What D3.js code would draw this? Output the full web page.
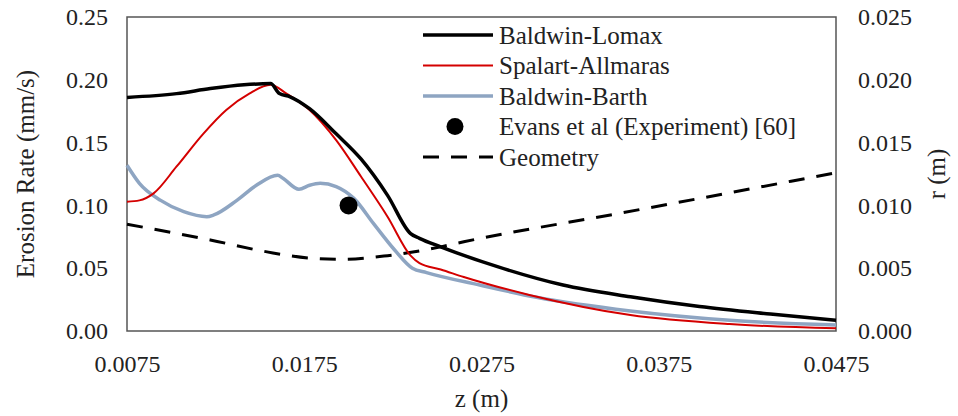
<!DOCTYPE html>
<html><head><meta charset="utf-8">
<script src="https://cdn.jsdelivr.net/npm/d3@7"></script>
<style>body{margin:0;background:#fff}svg{display:block}text{font-family:"Liberation Serif","Times New Roman",serif;fill:#222}</style>
</head><body><svg id="c" width="958" height="416"></svg>
<script>
const xTicks = [0.0075, 0.0175, 0.0275, 0.0375, 0.0475];
const yTicks = [0, 0.05, 0.10, 0.15, 0.20, 0.25];
const rTicks = [0, 0.005, 0.010, 0.015, 0.020, 0.025];

const lomaxZ = [0.0075, 0.0103, 0.0122, 0.0141, 0.0156, 0.0161, 0.0167, 0.0178, 0.0193, 0.0207, 0.0222, 0.0235, 0.0240, 0.0252, 0.0284, 0.0321, 0.0359, 0.0398, 0.0438, 0.0475];
const lomaxV = [0.186, 0.189, 0.193, 0.196, 0.197, 0.189, 0.1865, 0.177, 0.157, 0.137, 0.108, 0.0775, 0.0738, 0.067, 0.0512, 0.0366, 0.0273, 0.0195, 0.0135, 0.0085];

const spalartZ = [0.0075, 0.0082, 0.0090, 0.0103, 0.0118, 0.0131, 0.0144, 0.0156, 0.0165, 0.0178, 0.0193, 0.0207, 0.0222, 0.0235, 0.0240, 0.0252, 0.0265, 0.0302, 0.0359, 0.0415, 0.0475];
const spalartV = [0.103, 0.104, 0.1096, 0.131, 0.157, 0.176, 0.189, 0.196, 0.189, 0.176, 0.152, 0.123, 0.091, 0.060, 0.054, 0.049, 0.043, 0.0287, 0.0127, 0.0055, 0.0021];

const barthZ = [0.0075, 0.0082, 0.0094, 0.0107, 0.0120, 0.0124, 0.0137, 0.0148, 0.0160, 0.0163, 0.0172, 0.0178, 0.0184, 0.0193, 0.0203, 0.0214, 0.0226, 0.0236, 0.0244, 0.0274, 0.0306, 0.0359, 0.0415, 0.0475];
const barthV = [0.132, 0.1176, 0.104, 0.095, 0.091, 0.0924, 0.104, 0.116, 0.124, 0.1216, 0.1128, 0.116, 0.1176, 0.115, 0.1056, 0.0857, 0.0645, 0.050, 0.0465, 0.0366, 0.0268, 0.0159, 0.0085, 0.0048];

const expZ = [0.0200];
const expV = [0.100];

const geomZ = [0.0075, 0.0122, 0.0154, 0.0178, 0.0197, 0.0222, 0.0252, 0.0265, 0.0354, 0.0475];
const geomR = [0.0085, 0.00725, 0.0063, 0.0058, 0.0057, 0.0060, 0.0067, 0.0071, 0.0094, 0.0126];

const legendLabels = ["Baldwin-Lomax", "Spalart-Allmaras", "Baldwin-Barth", "Evans et al (Experiment) [60]", "Geometry"];

const svg = d3.select("#c");
const m = {l: 127, r: 836, t: 17, b: 331};
const x = d3.scaleLinear().domain([0.0075, 0.0475]).range([m.l, m.r]);
const y = d3.scaleLinear().domain([0, 0.25]).range([m.b, m.t]);
const yr = d3.scaleLinear().domain([0, 0.025]).range([m.b, m.t]);

const fs = 24, fl = 25;
const gx = svg.append("g").attr("transform", `translate(0,${m.b})`)
  .call(d3.axisBottom(x).tickValues(xTicks).tickFormat(d3.format(".4f")).tickSize(0).tickPadding(24));
const gy = svg.append("g").attr("transform", `translate(${m.l},0)`)
  .call(d3.axisLeft(y).tickValues(yTicks).tickFormat(d3.format(".2f")).tickSize(0).tickPadding(19));
const gr = svg.append("g").attr("transform", `translate(${m.r},0)`)
  .call(d3.axisRight(yr).tickValues(rTicks).tickFormat(d3.format(".3f")).tickSize(0).tickPadding(22));
[gx, gy, gr].forEach(g => {
  g.select(".domain").remove();
  g.selectAll("text").attr("font-size", fs).attr("font-family", "Liberation Serif").attr("fill", "#222");
});
svg.append("rect").attr("x", m.l).attr("y", m.t).attr("width", m.r - m.l).attr("height", m.b - m.t)
  .attr("fill", "none").attr("stroke", "#555").attr("stroke-width", 1.5);

svg.append("text").attr("x", x(0.0275)).attr("y", 407).attr("text-anchor", "middle").attr("font-size", fl).text("z (m)");
svg.append("text").attr("transform", `translate(34,${(m.t + m.b) / 2}) rotate(-90)`).attr("text-anchor", "middle").attr("font-size", fl).text("Erosion Rate (mm/s)");
svg.append("text").attr("transform", `translate(945,${(m.t + m.b) / 2}) rotate(-90)`).attr("text-anchor", "middle").attr("font-size", fl).text("r (m)");

const line = (zs, vs, sc) => d3.line().x((d, i) => x(zs[i])).y((d, i) => sc(vs[i])).curve(d3.curveMonotoneX)(vs);

svg.append("path").attr("d", line(geomZ, geomR, yr)).attr("fill", "none").attr("stroke", "#000").attr("stroke-width", 3).attr("stroke-dasharray", "16,12");
svg.append("path").attr("d", line(barthZ, barthV, y)).attr("fill", "none").attr("stroke", "#8EA5C2").attr("stroke-width", 3.5);
svg.append("path").attr("d", line(spalartZ, spalartV, y)).attr("fill", "none").attr("stroke", "#D40000").attr("stroke-width", 2);
svg.append("path").attr("d", line(lomaxZ, lomaxV, y)).attr("fill", "none").attr("stroke", "#000").attr("stroke-width", 3.5);
svg.selectAll("circle.exp").data(expZ).join("circle").attr("class", "exp")
  .attr("cx", (d) => x(d)).attr("cy", (d, i) => y(expV[i])).attr("r", 9).attr("fill", "#000");

const lg = svg.append("g");
const ly0 = 35, ldy = 30.5, lx0 = 423, lx1 = 493, ltx = 499;
const styles = [
  {stroke: "#000", w: 3.5}, {stroke: "#D40000", w: 2}, {stroke: "#8EA5C2", w: 3.5}, null, {stroke: "#000", w: 3, dash: "16,12"}
];
legendLabels.forEach((lab, i) => {
  const yy = ly0 + i * ldy;
  const s = styles[i];
  if (s) {
    lg.append("line").attr("x1", lx0).attr("x2", lx1).attr("y1", yy).attr("y2", yy)
      .attr("stroke", s.stroke).attr("stroke-width", s.w).attr("stroke-dasharray", s.dash || null);
  } else {
    lg.append("circle").attr("cx", 455).attr("cy", yy).attr("r", 8.5).attr("fill", "#000");
  }
  lg.append("text").attr("x", ltx).attr("y", yy).attr("dy", "0.35em").attr("font-size", fl).text(lab);
});
</script></body></html>
